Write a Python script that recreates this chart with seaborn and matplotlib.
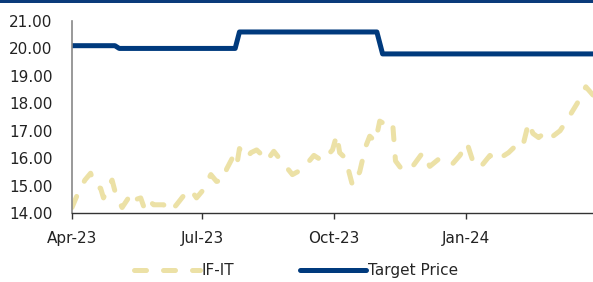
import matplotlib
matplotlib.use("Agg")
import matplotlib.pyplot as plt
import seaborn as sns
import pandas as pd

# IF-IT price series
ifit_dates = ["2023-04-01","2023-04-05","2023-04-10","2023-04-14","2023-04-17","2023-04-21",
              "2023-04-23","2023-04-26","2023-04-29","2023-05-02","2023-05-06","2023-05-13",
              "2023-05-16","2023-05-19","2023-05-22","2023-05-26","2023-05-28","2023-06-04",
              "2023-06-09","2023-06-13","2023-06-19","2023-06-23","2023-06-27","2023-07-01",
              "2023-07-07","2023-07-11","2023-07-16","2023-07-18","2023-07-22","2023-07-25",
              "2023-07-27","2023-08-01","2023-08-04","2023-08-08","2023-08-12","2023-08-15",
              "2023-08-20","2023-08-26","2023-09-02","2023-09-09","2023-09-17","2023-09-23",
              "2023-09-30","2023-10-03","2023-10-05","2023-10-09","2023-10-14","2023-10-19",
              "2023-10-23","2023-10-26","2023-10-30","2023-11-02","2023-11-07","2023-11-11",
              "2023-11-13","2023-11-18","2023-11-25","2023-12-02","2023-12-07","2023-12-14",
              "2023-12-23","2023-12-28","2024-01-02","2024-01-06","2024-01-11","2024-01-18",
              "2024-01-22","2024-01-31","2024-02-03","2024-02-07","2024-02-10","2024-02-14",
              "2024-02-17","2024-02-21","2024-02-27","2024-03-02","2024-03-07","2024-03-12",
              "2024-03-19","2024-03-25","2024-03-30"]
ifit_values = [14.2, 14.7, 15.2, 15.45, 15.0, 14.9,
               14.55, 14.9, 15.2, 14.6, 14.2, 14.75,
               14.5, 14.55, 14.1, 14.4, 14.3, 14.3,
               14.05, 14.3, 14.7, 14.85, 14.55, 14.8,
               15.4, 15.15, 15.2, 15.6, 16.0, 15.7,
               16.35, 16.0, 16.2, 16.3, 16.1, 15.9,
               16.25, 15.85, 15.4, 15.6, 16.1, 15.9,
               16.3, 16.85, 16.2, 16.0, 15.0, 15.5,
               16.4, 16.8, 16.6, 17.35, 17.2, 17.3,
               15.9, 15.55, 15.7, 16.2, 15.7, 16.0,
               15.8, 16.1, 16.55, 15.9, 15.65, 16.1,
               15.9, 16.2, 16.35, 16.55, 16.45, 17.3,
               16.9, 16.75, 17.0, 16.8, 17.0, 17.4,
               18.0, 18.6, 18.3]

# Target price (step changes)
tp_dates = ["2023-04-01","2023-05-01","2023-05-04","2023-07-24","2023-07-27",
            "2023-10-31","2023-11-04","2024-03-30"]
tp_values = [20.1, 20.1, 20.0, 20.0, 20.6, 20.6, 19.8, 19.8]

tick_dates = ["2023-04-01","2023-07-01","2023-10-01","2024-01-01"]
tick_labels = ["Apr-23","Jul-23","Oct-23","Jan-24"]
y_ticks = [14, 15, 16, 17, 18, 19, 20, 21]

df_ifit = pd.DataFrame({"date": pd.to_datetime(ifit_dates), "value": ifit_values})
df_tp = pd.DataFrame({"date": pd.to_datetime(tp_dates), "value": tp_values})

sns.set_theme(style="white")
plt.rcParams['font.family'] = ['DejaVu Sans']

YELLOW = "#ECE1A6"
BLUE = "#003A7D"
FS = 11

fig = plt.figure(figsize=(5.93, 2.82), dpi=100)
ax = fig.add_axes([72/593, 69/282, 1 - 72/593, (213-21)/282])

sns.lineplot(data=df_ifit, x="date", y="value", ax=ax, color=YELLOW, lw=3.6,
             label="IF-IT")
sns.lineplot(data=df_tp, x="date", y="value", ax=ax, color=BLUE, lw=3.6,
             label="Target Price")
l0 = ax.lines[0]
l0.set_linestyle((0, (2.4, 3.4)))
l0.set_dash_capstyle("round")

ax.set_ylim(14, 21)
ax.set_xlim(pd.Timestamp("2023-04-01"), pd.Timestamp("2024-03-30"))
ax.set_yticks(y_ticks)
ax.set_yticklabels([f"{v:.2f}" for v in y_ticks], fontsize=FS, color="#222222")
ax.set_xticks(pd.to_datetime(tick_dates))
ax.set_xticklabels(tick_labels, fontsize=FS, color="#222222")
ax.tick_params(axis="x", length=4, width=1, color="#333333", pad=9, direction="out", bottom=True)
ax.tick_params(axis="y", length=0, pad=14)
ax.set_xlabel("")
ax.set_ylabel("")
for s in ["top", "right"]:
    ax.spines[s].set_visible(False)
ax.spines["left"].set_color("#888888")
ax.spines["left"].set_linewidth(1.2)
ax.spines["bottom"].set_color("#333333")
ax.spines["bottom"].set_linewidth(1.0)
ax.grid(False)

leg = ax.legend(loc="upper center", bbox_to_anchor=(0.43, -0.19), ncol=2, frameon=False,
                fontsize=FS, handlelength=4.3, handletextpad=0.15, columnspacing=4.3)

# top border bar
fig.add_artist(plt.Rectangle((0, 1 - 3/282), 1, 3/282, transform=fig.transFigure,
                             color="#0B3B7A", lw=0))

fig.savefig("out.png", dpi=100)
